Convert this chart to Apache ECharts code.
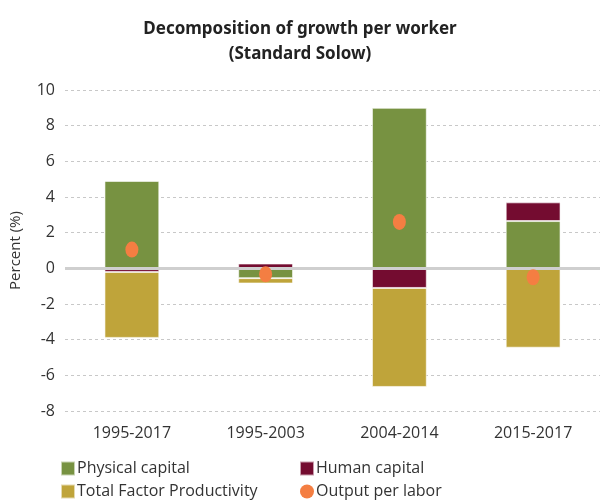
<!DOCTYPE html>
<html>
<head>
<meta charset="utf-8">
<script src="https://cdn.jsdelivr.net/npm/echarts@6/dist/echarts.min.js"></script>
<style>
  html, body { margin: 0; padding: 0; background: #fff; }
  #main { width: 600px; height: 502px; }
</style>
</head>
<body>
<div id="main"></div>
<script>
// periods on the x axis
var periods = ['1995-2017', '1995-2003', '2004-2014', '2015-2017']
// contributions, percent
var physicalCapital = [4.9, -0.55, 9.0, 2.65]
var humanCapital = [-0.2, 0.27, -1.1, 1.05]
var tfp = [-3.7, -0.3, -5.55, -4.45]
var outputPerLabor = [1.05, -0.33, 2.6, -0.5]

var chartDom = document.getElementById('main')
var myChart = echarts.init(chartDom)

var font = 'Open Sans'
var barBorder = 'rgba(255,255,255,0.6)'

// one legend column
function legendColumn(left, items) {
  return {
    orient: 'vertical',
    left: left,
    top: 459,
    padding: 0,
    itemWidth: 14,
    itemHeight: 14,
    itemGap: 4,
    textStyle: { fontFamily: font, fontSize: 16, lineHeight: 19, color: '#333', padding: [0, 0, 0, -3] },
    data: items,
  }
}

var option = {
  animation: false,
  title: {
    text: 'Decomposition of growth per worker\n(Standard Solow)',
    left: 295,
    top: 12,
    textAlign: 'center',
    textStyle: {
      fontFamily: 'Noto Sans',
      fontWeight: 'bold',
      fontSize: 17,
      lineHeight: 25,
      color: '#222',
    },
  },
  legend: [
    legendColumn(60, [
      { name: 'Physical capital', icon: 'rect' },
      { name: 'Total Factor Productivity', icon: 'rect' },
    ]),
    legendColumn(299, [
      { name: 'Human capital', icon: 'rect' },
      { name: 'Output per labor', icon: 'circle' },
    ]),
  ],
  grid: {
    left: 65,
    right: 0,
    top: 90,
    bottom: 91,
  },
  xAxis: {
    type: 'category',
    data: periods,
    axisLine: { show: false },
    axisTick: { show: false },
    axisLabel: {
      margin: 14,
      fontFamily: font,
      fontSize: 16,
      color: '#333',
    },
  },
  yAxis: {
    type: 'value',
    min: -8,
    max: 10,
    interval: 2,
    name: 'Percent (%)',
    nameLocation: 'middle',
    nameGap: 42,
    nameTextStyle: { fontFamily: font, fontSize: 15, color: '#333' },
    axisLine: { show: false },
    axisTick: { show: false },
    axisLabel: {
      margin: 10,
      fontFamily: font,
      fontSize: 16,
      color: '#333',
    },
    splitLine: {
      lineStyle: { color: '#c8c8c8', type: [3, 3], width: 1 },
    },
  },
  series: [
    {
      name: 'Physical capital',
      type: 'bar',
      stack: 'total',
      barWidth: '41%',
      itemStyle: { color: '#779241', borderColor: barBorder, borderWidth: 1 },
      data: physicalCapital,
      markLine: {
        silent: true,
        symbol: 'none',
        label: { show: false },
        lineStyle: { color: '#cfcfcf', type: 'solid', width: 3 },
        data: [{ yAxis: 0 }],
      },
    },
    {
      name: 'Human capital',
      type: 'bar',
      stack: 'total',
      itemStyle: { color: '#740c30', borderColor: barBorder, borderWidth: 1 },
      data: humanCapital,
    },
    {
      name: 'Total Factor Productivity',
      type: 'bar',
      stack: 'total',
      itemStyle: { color: '#bfa43a', borderColor: barBorder, borderWidth: 1 },
      data: tfp,
    },
    {
      name: 'Output per labor',
      type: 'scatter',
      symbol: 'circle',
      symbolSize: [13, 16],
      z: 5,
      itemStyle: { color: '#f47e42', opacity: 1 },
      data: outputPerLabor,
    },
  ],
}

option && myChart.setOption(option)
</script>
</body>
</html>
